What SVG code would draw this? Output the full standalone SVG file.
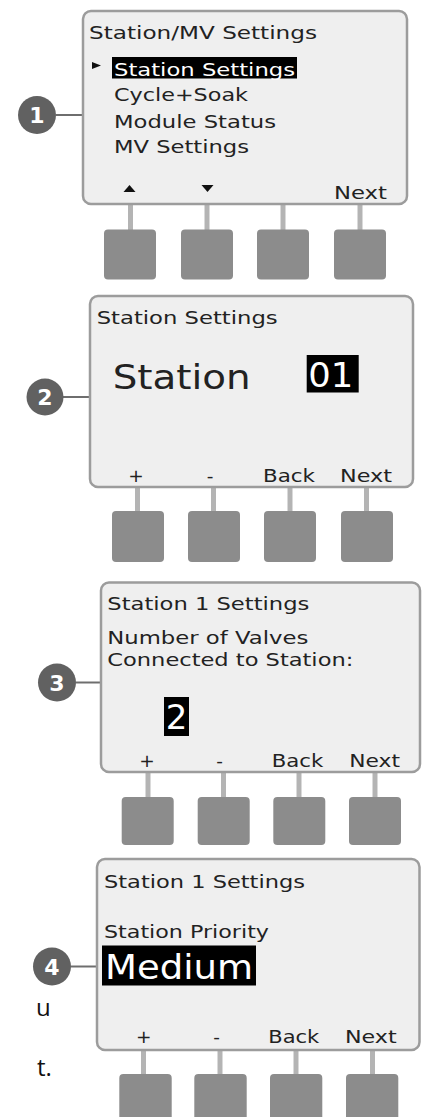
<svg xmlns="http://www.w3.org/2000/svg" width="422" height="1117" viewBox="0 0 422 1117">
<style>
.bg{fill:#ffffff}
.screen{fill:#efefef;stroke:#9c9c9c;stroke-width:2.5}
.btn{fill:#8c8c8c}
.stem{stroke:#b4b4b4;stroke-width:5}
.lead{stroke:#6e6e6e;stroke-width:2}
.badge{fill:#616161}
.num{font-family:"DejaVu Sans",Verdana,sans-serif;font-weight:bold;font-size:22px;fill:#ffffff;text-anchor:middle}
.t{font-family:"DejaVu Sans",Verdana,sans-serif;font-size:17.5px;fill:#222222}
.lbl{font-family:"DejaVu Sans",Verdana,sans-serif;font-size:18.5px;fill:#222222}
.big{font-family:"DejaVu Sans",Verdana,sans-serif;font-size:34px;fill:#222222}
.inv{fill:#ffffff}
.hl{fill:#000000}
.side{font-family:"Open Sans","Liberation Sans",sans-serif;font-size:24px;fill:#111111}
</style>
<rect class="bg" x="0" y="0" width="422" height="1117"/>

<g id="connectors">
  <line class="lead" x1="56" y1="115" x2="83" y2="115"/>
  <line class="lead" x1="63" y1="397" x2="90" y2="397"/>
  <line class="lead" x1="76" y1="682.5" x2="101" y2="682.5"/>
  <line class="lead" x1="71" y1="966.5" x2="97" y2="966.5"/>
  <line class="stem" x1="130.5" y1="204" x2="130.5" y2="230"/>
  <line class="stem" x1="207" y1="204" x2="207" y2="230"/>
  <line class="stem" x1="283" y1="204" x2="283" y2="230"/>
  <line class="stem" x1="360" y1="204" x2="360" y2="230"/>
  <line class="stem" x1="137.5" y1="487" x2="137.5" y2="512"/>
  <line class="stem" x1="213.5" y1="487" x2="213.5" y2="512"/>
  <line class="stem" x1="290" y1="487" x2="290" y2="512"/>
  <line class="stem" x1="366.5" y1="487" x2="366.5" y2="512"/>
  <line class="stem" x1="148" y1="772" x2="148" y2="798"/>
  <line class="stem" x1="223.5" y1="772" x2="223.5" y2="798"/>
  <line class="stem" x1="299" y1="772" x2="299" y2="798"/>
  <line class="stem" x1="375" y1="772" x2="375" y2="798"/>
  <line class="stem" x1="143.5" y1="1050" x2="143.5" y2="1075"/>
  <line class="stem" x1="220" y1="1050" x2="220" y2="1075"/>
  <line class="stem" x1="296" y1="1050" x2="296" y2="1075"/>
  <line class="stem" x1="372.5" y1="1050" x2="372.5" y2="1075"/>
</g>

<g id="step1">
  <rect class="screen" x="83" y="11" width="324" height="193" rx="8"/>
  <text class="t" x="89" y="38.5" textLength="228" lengthAdjust="spacingAndGlyphs">Station/MV Settings</text>
  <polygon points="92,62 101,65.5 92,69" fill="#111"/>
  <rect class="hl" x="112" y="57" width="185" height="21.5"/>
  <text class="t inv" x="114" y="76" textLength="181" lengthAdjust="spacingAndGlyphs">Station Settings</text>
  <text class="t" x="114" y="101" textLength="134" lengthAdjust="spacingAndGlyphs">Cycle+Soak</text>
  <text class="t" x="114" y="127.7" textLength="162" lengthAdjust="spacingAndGlyphs">Module Status</text>
  <text class="t" x="114" y="152.7" textLength="135" lengthAdjust="spacingAndGlyphs">MV Settings</text>
  <polygon points="123.5,192 129.5,185 135.5,192" fill="#111"/>
  <polygon points="201.5,185 213.5,185 207.5,192" fill="#111"/>
  <text class="lbl" x="334" y="199" textLength="53" lengthAdjust="spacingAndGlyphs">Next</text>
  <rect class="btn" x="104" y="229.5" width="52" height="50" rx="4"/>
  <rect class="btn" x="181" y="229.5" width="52" height="50" rx="4"/>
  <rect class="btn" x="257" y="229.5" width="52" height="50" rx="4"/>
  <rect class="btn" x="334" y="229.5" width="52" height="50" rx="4"/>
  <circle class="badge" cx="37" cy="115" r="19"/>
  <text class="num" x="37" y="123">1</text>
</g>

<g id="step2">
  <rect class="screen" x="90" y="296" width="323" height="191" rx="8"/>
  <text class="t" x="96.7" y="323.5" textLength="181" lengthAdjust="spacingAndGlyphs">Station Settings</text>
  <text class="big" x="112.7" y="389" textLength="138" lengthAdjust="spacingAndGlyphs">Station</text>
  <rect class="hl" x="306.7" y="355" width="52" height="37.5"/>
  <text class="big inv" x="308.3" y="386.7" font-size="32" textLength="45" lengthAdjust="spacingAndGlyphs">01</text>
  <text class="lbl" x="136" y="482" text-anchor="middle">+</text>
  <text class="lbl" x="210" y="482" text-anchor="middle">-</text>
  <text class="lbl" x="263" y="482" textLength="52" lengthAdjust="spacingAndGlyphs">Back</text>
  <text class="lbl" x="340" y="482" textLength="52" lengthAdjust="spacingAndGlyphs">Next</text>
  <rect class="btn" x="112" y="511" width="52" height="51" rx="4"/>
  <rect class="btn" x="188" y="511" width="52" height="51" rx="4"/>
  <rect class="btn" x="264" y="511" width="52" height="51" rx="4"/>
  <rect class="btn" x="341" y="511" width="52" height="51" rx="4"/>
  <circle class="badge" cx="45" cy="397" r="18.5"/>
  <text class="num" x="45" y="405">2</text>
</g>

<g id="step3">
  <rect class="screen" x="101" y="582.5" width="319" height="189.5" rx="8"/>
  <text class="t" x="107.3" y="610" textLength="202" lengthAdjust="spacingAndGlyphs">Station 1 Settings</text>
  <text class="t" x="107.3" y="643.5" textLength="201" lengthAdjust="spacingAndGlyphs">Number of Valves</text>
  <text class="t" x="107.3" y="666" textLength="246" lengthAdjust="spacingAndGlyphs">Connected to Station:</text>
  <rect class="hl" x="164" y="697" width="25" height="39"/>
  <text class="big inv" x="176.5" y="729" font-size="32" text-anchor="middle">2</text>
  <text class="lbl" x="147" y="767" text-anchor="middle">+</text>
  <text class="lbl" x="219.7" y="767" text-anchor="middle">-</text>
  <text class="lbl" x="271.7" y="767" textLength="51.6" lengthAdjust="spacingAndGlyphs">Back</text>
  <text class="lbl" x="349.3" y="767" textLength="50.7" lengthAdjust="spacingAndGlyphs">Next</text>
  <rect class="btn" x="121.7" y="797" width="52" height="48" rx="4"/>
  <rect class="btn" x="197.7" y="797" width="52" height="48" rx="4"/>
  <rect class="btn" x="273.3" y="797" width="52" height="48" rx="4"/>
  <rect class="btn" x="349" y="797" width="52" height="48" rx="4"/>
  <circle class="badge" cx="57" cy="682.5" r="19"/>
  <text class="num" x="57" y="690.5">3</text>
</g>

<g id="step4">
  <rect class="screen" x="97" y="859" width="322.5" height="191" rx="8"/>
  <text class="t" x="104" y="887.5" textLength="201" lengthAdjust="spacingAndGlyphs">Station 1 Settings</text>
  <text class="t" x="104" y="938.3" textLength="165" lengthAdjust="spacingAndGlyphs">Station Priority</text>
  <rect class="hl" x="102" y="945.5" width="154" height="40"/>
  <text class="big inv" x="105" y="978.5" font-size="32" textLength="148" lengthAdjust="spacingAndGlyphs">Medium</text>
  <text class="lbl" x="143.7" y="1043.3" text-anchor="middle">+</text>
  <text class="lbl" x="216.7" y="1043.3" text-anchor="middle">-</text>
  <text class="lbl" x="268.3" y="1043.3" textLength="51" lengthAdjust="spacingAndGlyphs">Back</text>
  <text class="lbl" x="345" y="1043.3" textLength="51.7" lengthAdjust="spacingAndGlyphs">Next</text>
  <rect class="btn" x="119.3" y="1074" width="52.4" height="50" rx="4"/>
  <rect class="btn" x="194.3" y="1074" width="52.4" height="50" rx="4"/>
  <rect class="btn" x="270" y="1074" width="52.3" height="50" rx="4"/>
  <rect class="btn" x="346" y="1074" width="52.3" height="50" rx="4"/>
  <circle class="badge" cx="52" cy="966.5" r="19"/>
  <text class="num" x="52" y="974.5">4</text>
</g>

<g id="side-text">
  <text class="side" x="36" y="1016">u</text>
  <text class="side" x="37" y="1076">t.</text>
</g>
</svg>
